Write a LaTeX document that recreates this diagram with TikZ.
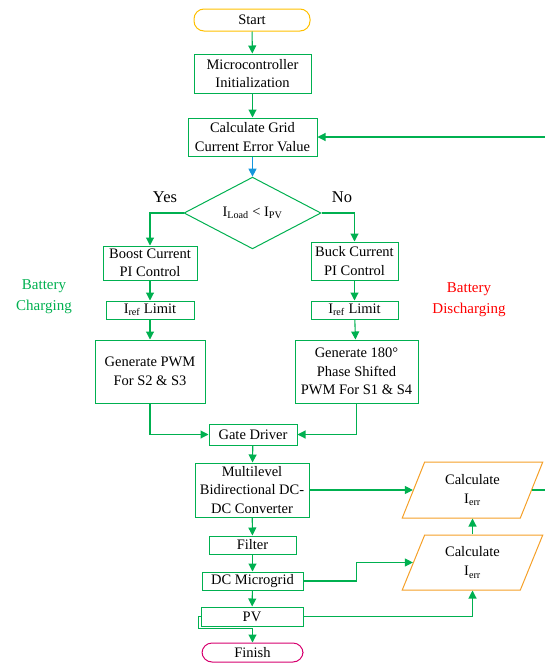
\documentclass[tikz,border=0pt]{standalone}
\usepackage{fontspec}
\setmainfont{Liberation Serif}
\usetikzlibrary{shapes.geometric,arrows.meta,calc}
\definecolor{gr}{RGB}{0,176,80}
\definecolor{bl}{RGB}{20,150,220}
\definecolor{orn}{RGB}{245,160,40}
\definecolor{yel}{RGB}{255,192,0}
\definecolor{mag}{RGB}{214,0,110}
\definecolor{rd}{RGB}{255,0,0}
\tikzset{
  box/.style={draw=gr, line width=1pt, align=center, inner sep=0pt, font=\fontsize{14.5}{18.5}\selectfont},
  term/.style={box, rounded corners=10pt},
  dec/.style={box, diamond},
  para/.style={draw=orn, line width=1pt, align=center, inner sep=0pt, font=\fontsize{14.5}{19}\selectfont,
    trapezium, trapezium left angle=67.7, trapezium right angle=112.3, trapezium stretches=true},
  arr/.style={draw=gr, line width=1.1pt, -{Triangle[width=8pt,length=8pt]}},
  lbl/.style={font=\fontsize{16.5}{20}\selectfont, align=center},
  side/.style={font=\fontsize{15}{21}\selectfont, align=center}
}
\begin{document}
\begin{tikzpicture}[x=1pt,y=-1pt]
\useasboundingbox (0,0) rectangle (544,664);
\node[term, draw=yel, minimum width=116pt, minimum height=22pt] (start) at (252,20) {Start};
\node[box, minimum width=117pt, minimum height=39pt] (micro) at (252.5,73.5) {Microcontroller\\Initialization};
\node[box, minimum width=129pt, minimum height=38pt] (grid) at (252.5,137) {Calculate Grid\\Current Error Value};
\node[dec, minimum width=137pt, minimum height=58pt] (dia) at (252.5,213) {I\textsubscript{Load} < I\textsubscript{PV}};
\node[box, minimum width=94pt, minimum height=34pt] (boost) at (150,263) {Boost Current\\PI Control};
\node[box, minimum width=87pt, minimum height=38pt] (buck) at (354.5,261) {Buck Current\\PI Control};
\node[box, minimum width=88pt, minimum height=18pt] (irefL) at (150,310) {I\textsubscript{ref} Limit};
\node[box, minimum width=87pt, minimum height=18pt] (irefR) at (354.5,310) {I\textsubscript{ref} Limit};
\node[box, minimum width=110pt, minimum height=63pt] (pwmL) at (150,371.5) {Generate PWM\\For S2 \& S3};
\node[box, minimum width=123pt, minimum height=63pt] (pwmR) at (356.5,371.5) {Generate 180°\\Phase Shifted\\PWM For S1 \& S4};
\node[box, minimum width=88pt, minimum height=21pt] (gate) at (253,434.5) {Gate Driver};
\node[box, minimum width=114pt, minimum height=54pt] (multi) at (252,490) {Multilevel\\Bidirectional DC-\\DC Converter};
\node[box, minimum width=87pt, minimum height=18pt] (filter) at (252.5,545) {Filter};
\node[box, minimum width=101pt, minimum height=18pt] (dcm) at (252.5,581) {DC Microgrid};
\node[box, minimum width=102pt, minimum height=19pt] (pv) at (252,616.5) {PV};
\node[term, draw=mag, minimum width=101pt, minimum height=19pt] (finish) at (252.5,652.5) {Finish};
\node[para, minimum width=141pt, minimum height=56pt] (calc1) at (472.5,490) {Calculate\\I\textsubscript{err}};
\node[para, minimum width=141pt, minimum height=55pt] (calc2) at (472.5,562.5) {Calculate\\I\textsubscript{err}};
\node[lbl] (yes) at (165,197) {Yes};
\node[lbl] (no) at (342,197) {No};
\node[side, text=gr] (chg) at (44,297) {Battery\\Charging};
\node[side, text=rd] (dis) at (469,300) {Battery\\Discharging};
\coordinate (fbA) at (560,490);
\coordinate (fbB) at (560,137);
% connectors
\draw[arr] (start) -- (micro);
\draw[arr] (micro) -- (grid);
\draw[arr, draw=bl, -{Triangle[width=8pt,length=8pt,fill=bl]}] (grid) -- (dia);
\draw[arr] (dia.west) -| (boost.north);
\draw[arr] (dia.east) -| (buck.north);
\draw[arr] (boost) -- (irefL);
\draw[arr] (irefL) -- (pwmL);
\draw[arr] (buck) -- (irefR);
\draw[arr] (irefR) -- (pwmR);
\draw[arr] (pwmL.south) |- (gate.west);
\draw[arr] (pwmR.south) |- (gate.east);
\draw[arr] (gate) -- (multi);
\draw[arr] (multi) -- (filter);
\draw[arr] (filter) -- (dcm);
\draw[arr] (dcm) -- (pv);
\draw[arr] (pv.west) -- ++(-2,0) -- ++(0,12) -| (finish.north);
\draw[arr] (multi.east) -- (calc1.west);
\draw[arr] (dcm.east) -- ++(53,0) |- (calc2.west);
\draw[arr] (pv.east) -| (calc2.south);
\draw[arr] (calc2.north) -- (calc1.south);
\draw[arr] (calc1.east) -- (fbA) -- (fbB) -- (grid.east);
\end{tikzpicture}
\end{document}
